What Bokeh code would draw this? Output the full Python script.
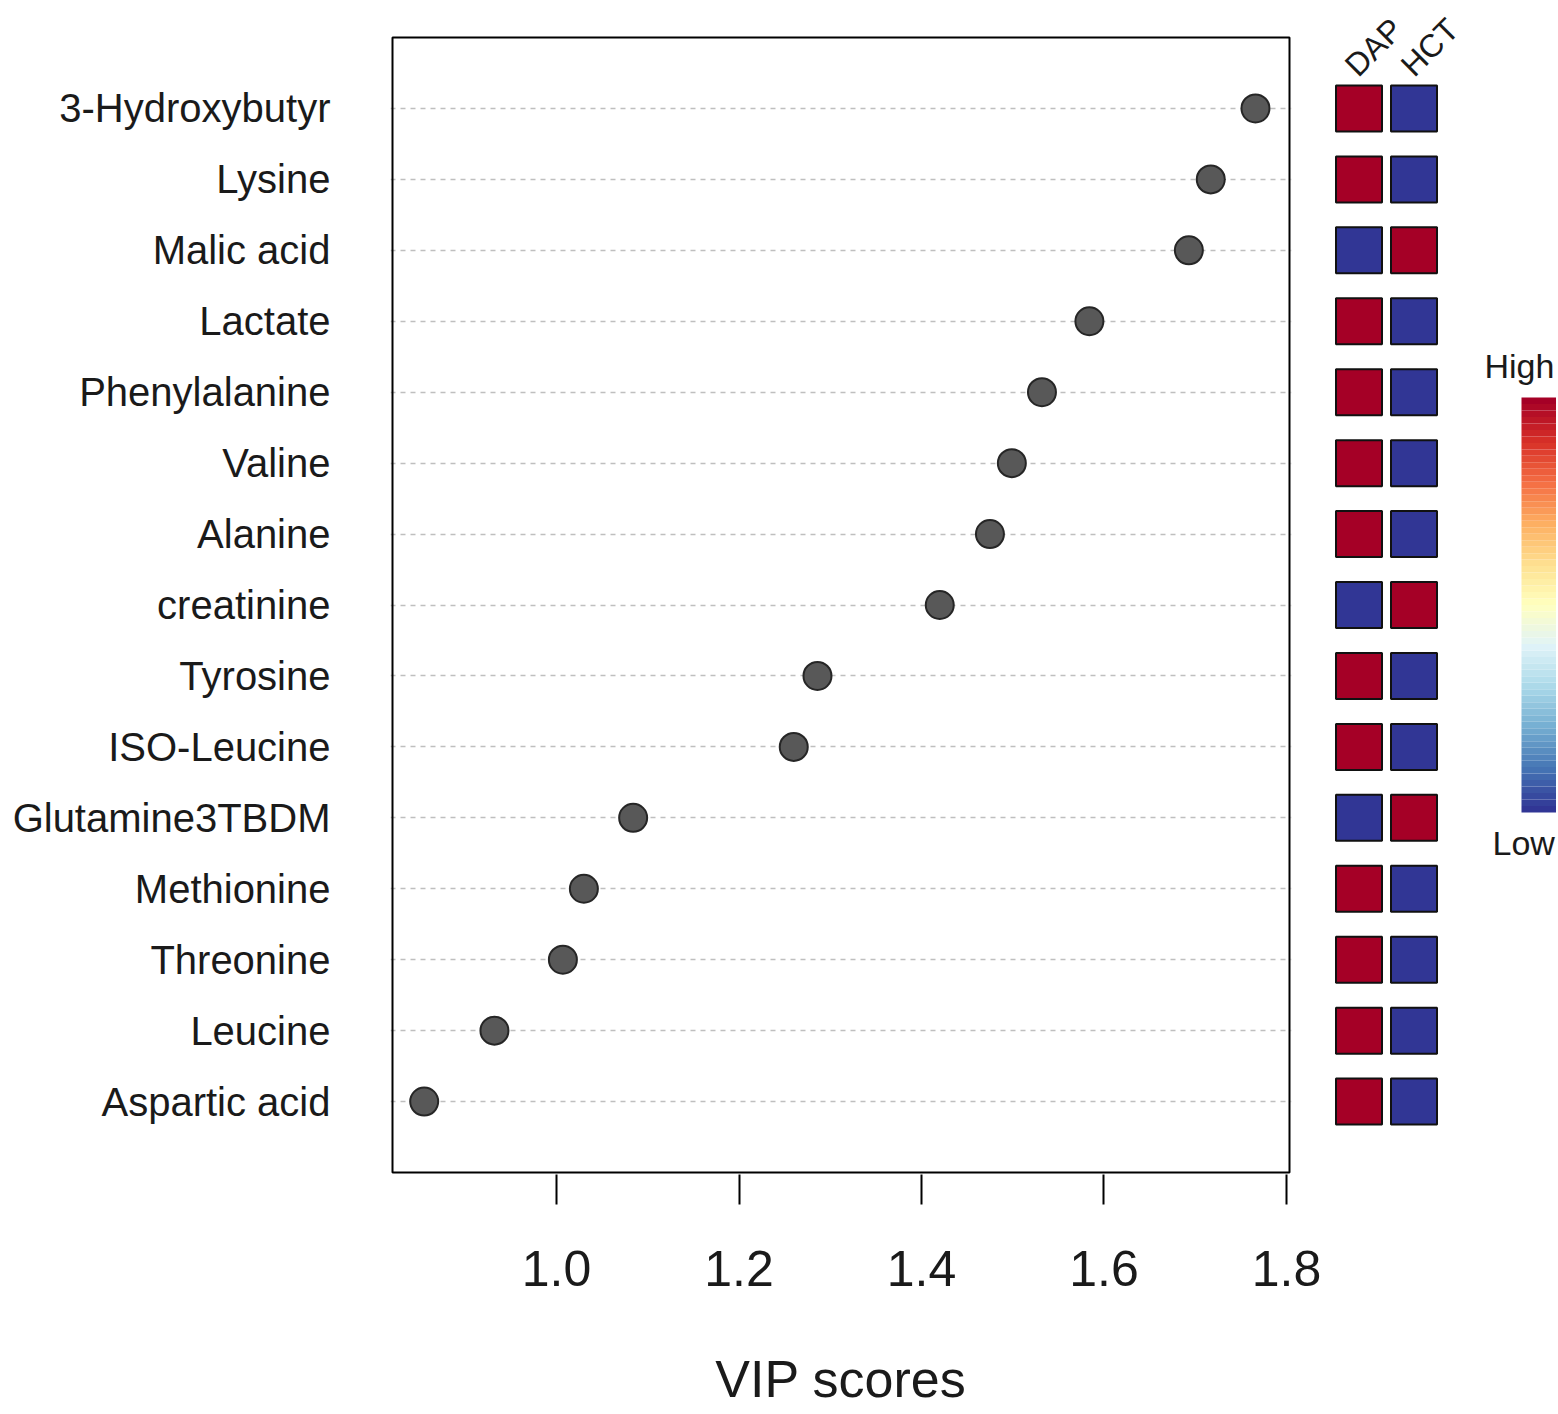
import numpy as np
from bokeh.plotting import figure
from bokeh.layouts import row
from bokeh.models import FixedTicker, Range1d, ColumnDataSource
from bokeh.core.properties import value
from bokeh.embed import file_html
from bokeh.resources import INLINE

# ---------------- data ----------------
compounds = ["3-Hydroxybutyr", "Lysine", "Malic acid", "Lactate", "Phenylalanine",
             "Valine", "Alanine", "creatinine", "Tyrosine", "ISO-Leucine",
             "Glutamine3TBDM", "Methionine", "Threonine", "Leucine", "Aspartic acid"]
vip = [1.766, 1.717, 1.693, 1.584, 1.532, 1.499, 1.475, 1.420, 1.286, 1.260,
       1.084, 1.030, 1.007, 0.932, 0.855]
groups = ["DAP", "HCT"]
dap_level = ["High", "High", "Low", "High", "High", "High", "High", "Low", "High",
             "High", "Low", "High", "High", "High", "High"]
hct_level = ["Low", "Low", "High", "Low", "Low", "Low", "Low", "High", "Low",
             "Low", "High", "Low", "Low", "Low", "Low"]
x_ticks = [1.0, 1.2, 1.4, 1.6, 1.8]
x_tick_labels = ["1.0", "1.2", "1.4", "1.6", "1.8"]
legend_labels = ["High", "Low"]

# ---------------- style / layout ----------------
FONT = "Liberation Sans"
HIGH_COL = "#a50026"
LOW_COL = "#313695"
RDYLBU = ["#313695", "#4575b4", "#74add1", "#abd9e9", "#e0f3f8", "#ffffbf",
          "#fee090", "#fdae61", "#f46d43", "#d73027", "#a50026"]

n = len(compounds)
ypos = [n - i for i in range(n)]  # top row highest

TOTAL_W, TOTAL_H = 1556, 1414
FRAME_L, FRAME_R = 390, 1291          # px, main frame (2px wider than the box)
FRAME_B = 1174                         # px, frame bottom (box bottom at 1172)
MAIN_W = 1333
SIDE_W = TOTAL_W - MAIN_W

BOX_X0, BOX_X1 = 0.82027, 1.80329      # data extent of the box
BOX_Y0, BOX_Y1 = 0, n + 1
PX_X = 912.5                           # px per x unit
PX_Y = 1135 / (BOX_Y1 - BOX_Y0)        # px per y unit
BOX_TOP_PX = 37

y_rng = Range1d(BOX_Y0 - (FRAME_B - 1172) / PX_Y, BOX_Y1 + BOX_TOP_PX / PX_Y)
x_rng = Range1d(BOX_X0 - 2 / PX_X, BOX_X1 + 2 / PX_X)

p = figure(width=MAIN_W, height=TOTAL_H, output_backend="svg", toolbar_location=None,
           x_range=x_rng, y_range=y_rng,
           min_border_left=FRAME_L, min_border_right=MAIN_W - FRAME_R,
           min_border_top=0, min_border_bottom=TOTAL_H - FRAME_B)
p.outline_line_color = None
p.background_fill_color = "white"
p.border_fill_color = "white"

# grid
p.xgrid.visible = False
p.ygrid.ticker = FixedTicker(ticks=ypos)
p.ygrid.grid_line_color = "#bfbfbf"
p.ygrid.grid_line_dash = "5 5"
p.ygrid.grid_line_width = 1.5

# box
p.quad(left=[BOX_X0], right=[BOX_X1], bottom=[BOX_Y0], top=[BOX_Y1],
       fill_color=None, line_color="black", line_width=2)

# x axis
p.xaxis.ticker = FixedTicker(ticks=x_ticks)
p.xaxis.major_label_overrides = {t: l for t, l in zip(x_ticks, x_tick_labels)}
p.xaxis.axis_line_color = None
p.xaxis.major_tick_in = 0
p.xaxis.major_tick_out = 30
p.xaxis.major_tick_line_width = 2
p.xaxis.major_tick_line_color = "black"
p.xaxis.minor_tick_line_color = None
p.xaxis.major_label_text_font = FONT
p.xaxis.major_label_text_font_size = "50px"
p.xaxis.major_label_text_color = "#1a1a1a"
p.xaxis.major_label_standoff = 46
p.xaxis.major_label_text_line_height = 0.8
p.xaxis.axis_label = "VIP scores"
p.xaxis.axis_label_text_font = FONT
p.xaxis.axis_label_text_font_size = "52px"
p.xaxis.axis_label_text_font_style = "normal"
p.xaxis.axis_label_text_color = "#1a1a1a"
p.xaxis.axis_label_text_line_height = 0.8
p.xaxis.axis_label_standoff = 61

# y axis
p.yaxis.ticker = FixedTicker(ticks=ypos)
p.yaxis.major_label_overrides = {y: c for y, c in zip(ypos, compounds)}
p.yaxis.axis_line_color = None
p.yaxis.major_tick_line_color = None
p.yaxis.major_tick_in = 0
p.yaxis.major_tick_out = 0
p.yaxis.minor_tick_line_color = None
p.yaxis.major_label_text_font = FONT
p.yaxis.major_label_text_font_size = "40px"
p.yaxis.major_label_text_color = "#1a1a1a"
p.yaxis.major_label_standoff = 60

src = ColumnDataSource(dict(x=vip, y=ypos))
p.scatter("x", "y", source=src, size=28, fill_color="#585858",
          line_color="#262626", line_width=2)

# ---------------- side panel: heatmap + colour key ----------------
COL_DX = 55.0
COL0_PX = 1358.5
sx_start = -(COL0_PX - MAIN_W) / COL_DX
sx_end = sx_start + SIDE_W / COL_DX

s = figure(width=SIDE_W, height=TOTAL_H, output_backend="svg", toolbar_location=None,
           x_range=Range1d(sx_start, sx_end), y_range=y_rng,
           min_border_left=0, min_border_right=0, min_border_top=0,
           min_border_bottom=TOTAL_H - FRAME_B)
s.axis.visible = False
s.grid.visible = False
s.outline_line_color = None
s.background_fill_color = "white"
s.border_fill_color = "white"


def px_to_y(py):
    return BOX_Y1 - (py - BOX_TOP_PX) / PX_Y


def px_to_sx(px):
    return (px - COL0_PX) / COL_DX


cells_x, cells_y, cells_c = [], [], []
for gi, levels in enumerate([dap_level, hct_level]):
    for y, lv in zip(ypos, levels):
        cells_x.append(gi)
        cells_y.append(y)
        cells_c.append(HIGH_COL if lv == "High" else LOW_COL)
s.rect(x=cells_x, y=cells_y, width=46 / COL_DX, height=46 / PX_Y,
       fill_color=cells_c, line_color="#111111", line_width=2)

# column labels (rotated 45 degrees)
s.text(x=[px_to_sx(1350), px_to_sx(1406)], y=[px_to_y(70), px_to_y(70)], text=groups,
       angle=np.pi / 4, text_align="left", text_baseline="alphabetic",
       text_font=value(FONT), text_font_size="32px", text_color="#1a1a1a")


# colour key
def interp(pal, m):
    rgb = np.array([[int(c[i:i + 2], 16) for i in (1, 3, 5)] for c in pal], float)
    t = np.linspace(0, len(pal) - 1, m)
    out = []
    for v in t:
        i = min(int(np.floor(v)), len(pal) - 2)
        f = v - i
        c = rgb[i] * (1 - f) + rgb[i + 1] * f
        out.append("#%02x%02x%02x" % tuple(int(round(x)) for x in c))
    return out


NB = 64
edges = np.linspace(px_to_y(812), px_to_y(397), NB + 1)
s.quad(left=px_to_sx(1521), right=px_to_sx(1575), bottom=edges[:-1], top=edges[1:],
       fill_color=interp(RDYLBU, NB), line_color=None)

s.text(x=[px_to_sx(1484), px_to_sx(1492)], y=[px_to_y(365), px_to_y(842)],
       text=legend_labels, text_align="left", text_baseline="middle",
       text_font=value(FONT), text_font_size="34px", text_color="#1a1a1a")

layout = row(p, s)
open("out.html", "w").write(file_html(layout, INLINE))
